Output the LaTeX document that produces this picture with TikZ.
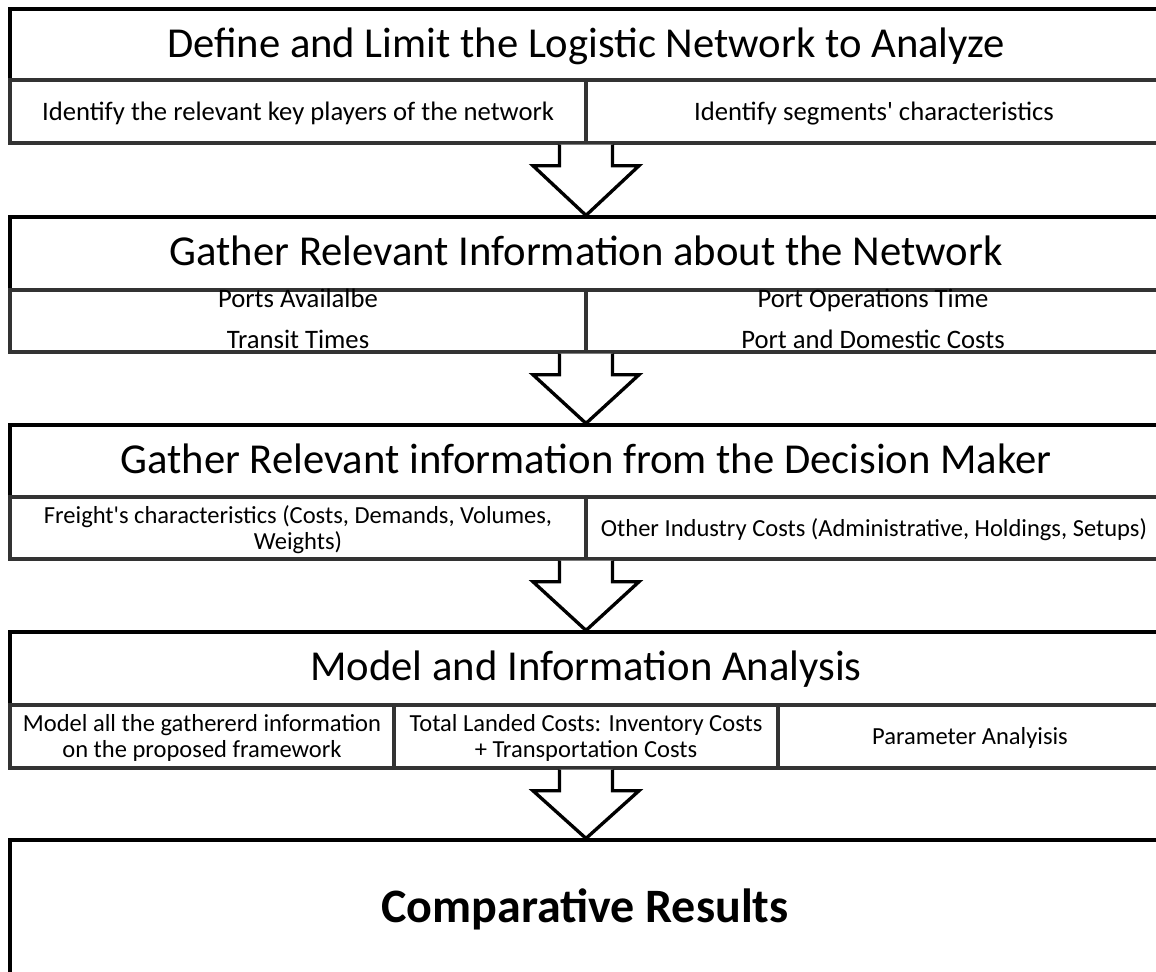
\documentclass[tikz,border=0pt]{standalone}
\usepackage{fontspec}
\setmainfont{Carlito}[Ligatures=TeXOff]
\usetikzlibrary{calc,fit}
\newcommand{\dnarrow}[2]{%
  \coordinate (t#2) at (#2.north);
  \coordinate (b#2) at (#2.north |- #1.south);
  \draw[blockarrow] ($(b#2)+(-26.5,0)$) -- ++(0,21) -- ++(-26.5,0) -- (t#2)
    -- ($(b#2)+(53,21)$) -- ++(-26.5,0) -- ++(0,-21);
}
\begin{document}
\begin{tikzpicture}[x=0.75pt,y=-0.75pt,
  hdr/.style={draw=black,line width=2.4pt,fill=white,inner sep=0pt},
  sub/.style={draw=black!80,line width=2.6pt,inner sep=0pt},
  htxt/.style={anchor=base,inner sep=0pt,font=\fontsize{32}{38}\selectfont},
  atxt/.style={anchor=base,inner sep=0pt,font=\fontsize{20}{24}\selectfont},
  btxt/.style={anchor=base,inner sep=0pt,font=\fontsize{18.4}{22}\selectfont},
  rtxt/.style={anchor=base,inner sep=0pt,font=\fontsize{36}{43}\selectfont\bfseries},
  blockarrow/.style={draw=black,line width=2.5pt,fill=white,line join=miter}
]
\useasboundingbox (0,0) rectangle (1156,971);
\clip (0,0) rectangle (1156,971);
\fill[white] (0,0) rectangle (1156,971);

% Box 1
\node[hdr,fit={(10,9)(1162,80)}] (h1) {};
\node[sub,fit={(10,80)(586,143)}] (s1a) {};
\node[sub,fit={(586,80)(1162,143)}] (s1b) {};
\node[htxt] (l1) at ($(h1.center)+(0,12.5)$) {Define and Limit the Logistic Network to Analyze};
\node[atxt] (l1a) at ($(s1a.center)+(0,8.6)$) {Identify the relevant key players of the network};
\node[atxt] (l1b) at ($(s1b.center)+(0,8.6)$) {Identify segments' characteristics};

% Box 2
\node[hdr,fit={(10,217)(1162,290)}] (h2) {};
\node[sub,fit={(10,290)(586,352)}] (s2a) {};
\node[sub,fit={(586,290)(1162,352)}] (s2b) {};
\node[htxt] (l2) at ($(h2.center)+(0,12)$) {Gather Relevant Information about the Network};
\node[atxt] (p2a) at (298,307) {Ports Availalbe};
\node[atxt] (p2b) at (298,348) {Transit Times};
\node[atxt] (p2c) at (873,307) {Port Operations Time};
\node[atxt] (p2d) at (873,348) {Port and Domestic Costs};

% Box 3
\node[hdr,fit={(10,425)(1162,497)}] (h3) {};
\node[sub,fit={(10,497)(586,559)}] (s3a) {};
\node[sub,fit={(586,497)(1162,559)}] (s3b) {};
\node[htxt] (l3) at ($(h3.center)+(0,12)$) {Gather Relevant information from the Decision Maker};
\node[btxt] (l3a) at ($(s3a.center)+(0,-5)$) {Freight's characteristics (Costs, Demands, Volumes,};
\node[btxt] (l3b) at ($(s3a.center)+(0,21)$) {Weights)};
\node[btxt] (l3c) at ($(s3b.center)+(0,8)$) {Other Industry Costs (Administrative, Holdings, Setups)};

% Box 4
\node[hdr,fit={(10,632)(1162,705)}] (h4) {};
\node[sub,fit={(10,705)(394,768)}] (s4a) {};
\node[sub,fit={(394,705)(778,768)}] (s4b) {};
\node[sub,fit={(778,705)(1162,768)}] (s4c) {};
\node[htxt] (l4) at ($(h4.center)+(0,12)$) {Model and Information Analysis};
\node[btxt] (l4a) at ($(s4a.center)+(0,-5)$) {Model all the gathererd information};
\node[btxt] (l4b) at ($(s4a.center)+(0,21)$) {on the proposed framework};
\node[btxt] (l4c) at ($(s4b.center)+(0,-5)$) {Total Landed Costs: Inventory Costs};
\node[btxt] (l4d) at ($(s4b.center)+(0,21)$) {+ Transportation Costs};
\node[btxt] (l4e) at ($(s4c.center)+(0,8)$) {Parameter Analyisis};

% Box 5
\node[hdr,fit={(10,840)(1162,980)}] (h5) {};
\node[rtxt] (l5) at (585,922) {Comparative Results};

% Arrows
\dnarrow{s1a}{h2}
\dnarrow{s2a}{h3}
\dnarrow{s3a}{h4}
\dnarrow{s4b}{h5}
\end{tikzpicture}
\end{document}
